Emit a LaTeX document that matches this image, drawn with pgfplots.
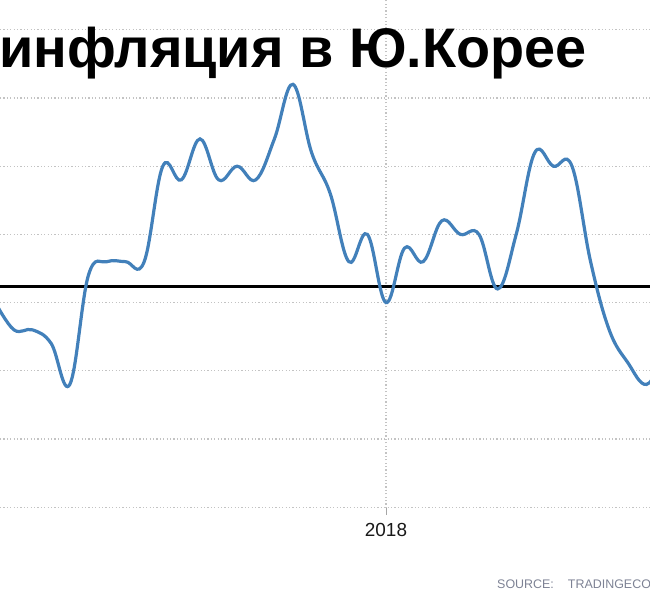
\documentclass[border=0pt]{standalone}
\usepackage{pgfplots}
\pgfplotsset{compat=1.18}
\usepackage{fontspec}
\setmainfont{Liberation Sans}
\definecolor{lineblue}{RGB}{66,128,186}
\definecolor{gridgray}{RGB}{195,195,195}
\definecolor{srcgray}{RGB}{125,130,148}
\begin{document}
\begin{tikzpicture}
\useasboundingbox (0,0) rectangle (650bp,600bp);
\begin{axis}[
  at={(0bp,92bp)}, anchor=south west,
  scale only axis, width=650bp, height=508bp,
  xmin=-20.753, xmax=14.194,
  ymin=-0.5059, ymax=3.2185,
  axis line style={draw=none},
  xtick={0}, xticklabels={2018},
  ytick={-0.5,0,0.5,1,1.5,2,2.5,3},
  yticklabels={},
  major tick length=7bp,
  tick style={draw=gray!70, line width=0.8bp},
  ytick style={draw=none},
  tick align=outside,
  xticklabel style={font=\fontsize{19}{21}\selectfont, text=black!90, yshift=-5bp},
  grid=major,
  major grid style={draw=gridgray, line width=1.1bp, dash pattern=on 1.2bp off 2.2bp},
  clip=true,
]
% reference line
\addplot[black, line width=2.8bp, forget plot] coordinates {(-22,1.12) (16,1.12)};
% series
\addplot[lineblue, line width=3.2bp, smooth, tension=0.65] coordinates {
(-21,1.0) (-20,0.8) (-19,0.8) (-18,0.7) (-17,0.4) (-16,1.2) (-15,1.3) (-14,1.3)
(-13,1.3) (-12,2.0) (-11,1.9) (-10,2.2) (-9,1.9) (-8,2.0) (-7,1.9) (-6,2.2)
(-5,2.6) (-4,2.1) (-3,1.8) (-2,1.3) (-1,1.5) (0,1.0) (1,1.4) (2,1.3)
(3,1.6) (4,1.5) (5,1.5) (6,1.1) (7,1.5) (8,2.1) (9,2.0) (10,2.0)
(11,1.3) (12,0.8) (13,0.56) (14,0.4) (15,0.6)
};
\end{axis}
\node[anchor=base west, inner sep=0pt, font=\fontsize{56}{62}\selectfont\bfseries] at (-1bp,532bp) {инфляция в Ю.Корее};
\node[anchor=base west, inner sep=0pt, text=srcgray, font=\fontsize{12.5}{14}\selectfont] at (497bp,12bp) {SOURCE:\hspace{14bp}TRADINGECONOMICS.COM};
\end{tikzpicture}
\end{document}
